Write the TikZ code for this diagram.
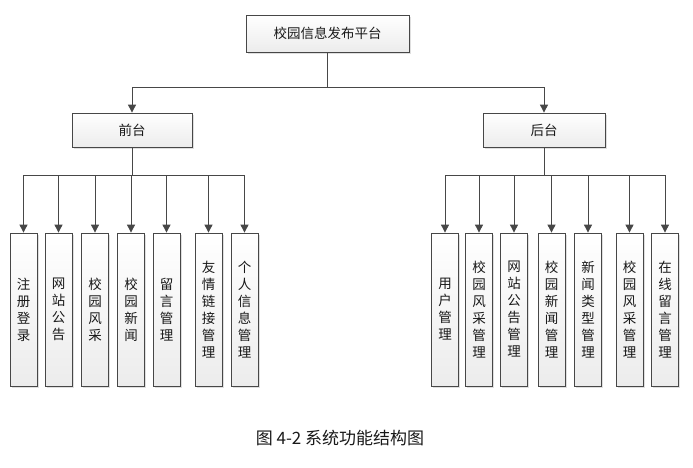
\documentclass[tikz,border=0pt]{standalone}
\usepackage{fontspec}
\setmainfont{Noto Sans CJK SC}
\usetikzlibrary{arrows.meta,shadows}

\begin{document}
\begin{tikzpicture}[x=1pt, y=-1pt,
    box/.style={draw=black!72, line width=0.8pt, top color=white, bottom color=gray!15,
        drop shadow={shadow xshift=1.5pt, shadow yshift=-1.5pt, opacity=0.25},
        text=black!90, font=\fontsize{13.5pt}{17pt}\selectfont},
    leaf/.style={box, minimum width=27pt, minimum height=153pt, inner sep=0pt, align=center},
    link/.style={draw=black!72, line width=0.9pt, -{Triangle[width=8pt,length=8pt]}}]
    \useasboundingbox (0,0) rectangle (693,467);

    \node[box, minimum width=163pt, minimum height=37pt] (root) at (327.5,33.5) {校园信息发布平台};
    \node[box, minimum width=120pt, minimum height=34pt] (front) at (132,130) {前台};
    \node[box, minimum width=122pt, minimum height=34pt] (back) at (544,130) {后台};

    % front end
    \node[leaf] (f1) at (23.5,309.5) {注\\册\\登\\录};
    \node[leaf] (f2) at (58.5,309.5) {网\\站\\公\\告};
    \node[leaf] (f3) at (95,309.5) {校\\园\\风\\采};
    \node[leaf] (f4) at (131,309.5) {校\\园\\新\\闻};
    \node[leaf] (f5) at (166.5,309.5) {留\\言\\管\\理};
    \node[leaf] (f6) at (208.5,309.5) {友\\情\\链\\接\\管\\理};
    \node[leaf] (f7) at (244.5,309.5) {个\\人\\信\\息\\管\\理};

    % back end
    \node[leaf] (b1) at (445,309.5) {用\\户\\管\\理};
    \node[leaf] (b2) at (479,309.5) {校\\园\\风\\采\\管\\理};
    \node[leaf] (b3) at (514,309.5) {网\\站\\公\\告\\管\\理};
    \node[leaf] (b4) at (551.5,309.5) {校\\园\\新\\闻\\管\\理};
    \node[leaf] (b5) at (588,309.5) {新\\闻\\类\\型\\管\\理};
    \node[leaf] (b6) at (629.5,309.5) {校\\园\\风\\采\\管\\理};
    \node[leaf] (b7) at (665,309.5) {在\\线\\留\\言\\管\\理};

    \draw[link] (root.south) -- ++(0,35) -| (front.north);
    \draw[link] (root.south) -- ++(0,35) -| (back.north);

    \draw[link] (front.south) -- ++(0,28) -| (f1.north);
    \draw[link] (front.south) -- ++(0,28) -| (f2.north);
    \draw[link] (front.south) -- ++(0,28) -| (f3.north);
    \draw[link] (front.south) -- ++(0,28) -| (f4.north);
    \draw[link] (front.south) -- ++(0,28) -| (f5.north);
    \draw[link] (front.south) -- ++(0,28) -| (f6.north);
    \draw[link] (front.south) -- ++(0,28) -| (f7.north);

    \draw[link] (back.south) -- ++(0,28) -| (b1.north);
    \draw[link] (back.south) -- ++(0,28) -| (b2.north);
    \draw[link] (back.south) -- ++(0,28) -| (b3.north);
    \draw[link] (back.south) -- ++(0,28) -| (b4.north);
    \draw[link] (back.south) -- ++(0,28) -| (b5.north);
    \draw[link] (back.south) -- ++(0,28) -| (b6.north);
    \draw[link] (back.south) -- ++(0,28) -| (b7.north);

    \node[font=\fontsize{17pt}{20pt}\selectfont, text=black!90] (caption) at (340,438) {图 4-2 系统功能结构图};
\end{tikzpicture}
\end{document}
